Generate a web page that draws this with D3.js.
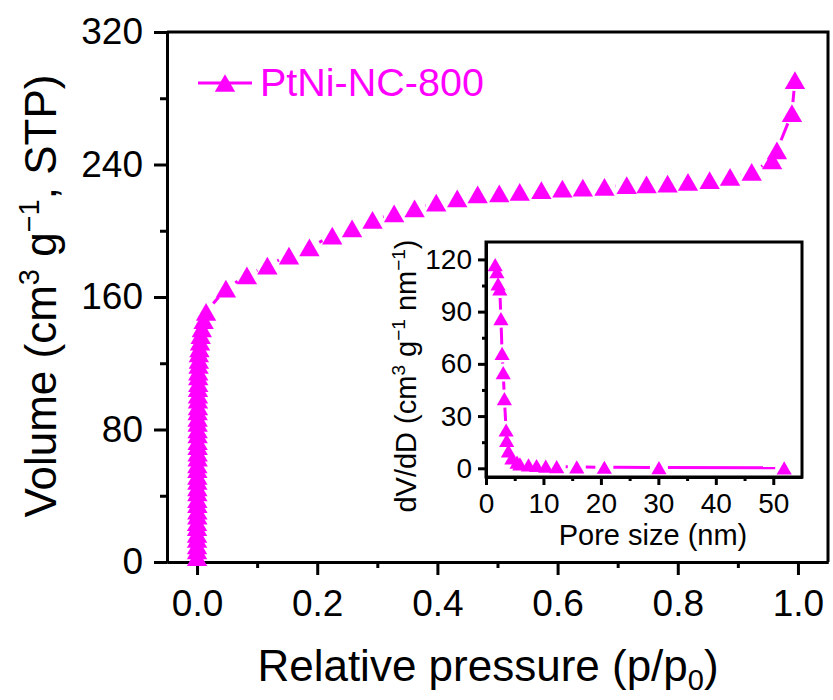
<!DOCTYPE html>
<html>
<head>
<meta charset="utf-8">
<script src="https://cdn.jsdelivr.net/npm/d3@7/dist/d3.min.js"></script>
<style>
  body { margin: 0; background: #fff; }
  svg text { font-family: Arial, "Liberation Sans", sans-serif; fill: #000; }
</style>
</head>
<body>
<svg id="chart" width="833" height="700"></svg>
<script>
// ---- data ----
// isotherm, relative pressure vs adsorbed volume
const pressure = [0.000, 0.000, 0.000, 0.000, 0.000, 0.000, 0.000, 0.0005, 0.0005, 0.0005,
  0.0005, 0.0005, 0.0005, 0.0005, 0.0005, 0.0005, 0.0005, 0.001, 0.001, 0.001,
  0.001, 0.001, 0.001, 0.001, 0.001, 0.001, 0.0015, 0.0015, 0.0015, 0.0015,
  0.002, 0.002, 0.002, 0.0025, 0.003, 0.003, 0.004, 0.005, 0.006, 0.008,
  0.011, 0.015, 0.048, 0.083, 0.117, 0.153, 0.187, 0.225, 0.258, 0.292,
  0.328, 0.362, 0.398, 0.433, 0.467, 0.503, 0.537, 0.573, 0.608, 0.642,
  0.678, 0.715, 0.748, 0.783, 0.817, 0.853, 0.887, 0.923, 0.957, 0.965,
  0.990, 0.995];
const volume = [3, 7, 10, 14, 17, 21, 24, 28, 31, 35,
  38, 42, 45, 49, 52, 56, 59, 63, 66, 70,
  73, 77, 80, 84, 87, 91, 94, 98, 101, 105,
  108, 112, 115, 119, 122, 126, 129, 133, 137, 141,
  146, 151, 165, 173, 179, 185, 190, 197, 201.5, 206.5,
  210.5, 213.5, 217, 219.5, 222, 222.5, 223.5, 224.5, 225.5, 226,
  226.5, 227.5, 228, 228.5, 229.5, 230.5, 232.5, 235.5, 242.5, 248.5,
  271, 291];
// inset: pore size distribution
const poreSize = [1.6, 1.9, 2.1, 2.4, 2.6, 2.8, 3.0, 3.2, 3.5, 3.6, 3.9, 4.5, 5.4, 5.9,
  7.4, 8.8, 10.4, 12.3, 15.8, 20.6, 30.1, 51.9];
const dVdD = [117, 113, 106, 103, 86, 66, 55, 40, 22, 16, 10, 6, 3.5, 2.5,
  2, 1.6, 1.2, 1, 0.8, 0.6, 0.4, 0.3];

const xTicks = [0, 0.2, 0.4, 0.6, 0.8, 1.0];
const xMinor = [0.1, 0.3, 0.5, 0.7, 0.9];
const yTicks = [0, 80, 160, 240, 320];
const yMinor = [40, 120, 200, 280];
const ixTicks = [0, 10, 20, 30, 40, 50];
const ixMinor = [5, 15, 25, 35, 45];
const iyTicks = [0, 30, 60, 90, 120];
const iyMinor = [15, 45, 75, 105];
const seriesName = 'PtNi-NC-800';

const magenta = '#ff00ff';
const svg = d3.select('#chart');

// triangle centred on its bounding box
const tri = {
  draw(ctx, size) {
    const w = Math.sqrt(size * 4 / Math.sqrt(3));
    const h = w * 0.87;
    ctx.moveTo(0, -h / 2);
    ctx.lineTo(w / 2, h / 2);
    ctx.lineTo(-w / 2, h / 2);
    ctx.closePath();
  }
};

// draws a line between points, leaving a small gap next to each marker
function gappedLine(g, pts, gap) {
  for (let i = 1; i < pts.length; i++) {
    const [x1, y1] = pts[i - 1];
    const [x2, y2] = pts[i];
    const len = Math.hypot(x2 - x1, y2 - y1);
    if (len <= gap * 2) continue;
    const ux = (x2 - x1) / len, uy = (y2 - y1) / len;
    g.append('line')
      .attr('x1', x1 + ux * gap).attr('y1', y1 + uy * gap)
      .attr('x2', x2 - ux * gap).attr('y2', y2 - uy * gap)
      .attr('stroke', magenta).attr('stroke-width', 3);
  }
}

function styleAxis(g, fontSize) {
  g.select('.domain').attr('stroke', '#000').attr('stroke-width', 3);
  g.selectAll('.tick line').attr('stroke', '#000').attr('stroke-width', 3);
  g.selectAll('.tick text').attr('font-size', fontSize).attr('fill', '#000');
}

// ################ MAIN PLOT
const x = d3.scaleLinear().domain([-0.05, 1.05]).range([167, 828]);
const y = d3.scaleLinear().domain([0, 320]).range([562, 32]);

// minor ticks first
svg.append('g').attr('transform', 'translate(0,562)')
  .call(d3.axisBottom(x).tickValues(xMinor).tickSize(6).tickSizeOuter(0).tickFormat(''))
  .call(g => styleAxis(g, 37));
svg.append('g').attr('transform', 'translate(167,0)')
  .call(d3.axisLeft(y).tickValues(yMinor).tickSize(7).tickSizeOuter(0).tickFormat(''))
  .call(g => styleAxis(g, 37));

svg.append('g').attr('transform', 'translate(0,562)')
  .call(d3.axisBottom(x).tickValues(xTicks).tickSize(13).tickSizeOuter(0)
    .tickPadding(15).tickFormat(d3.format('.1f')))
  .call(g => styleAxis(g, 37));
svg.append('g').attr('transform', 'translate(167,0)')
  .call(d3.axisLeft(y).tickValues(yTicks).tickSize(13).tickSizeOuter(0).tickPadding(11))
  .call(g => styleAxis(g, 37));

// top and right border
svg.append('path')
  .attr('d', `M${x.range()[0]},${y.range()[1]}H${x.range()[1]}V${y.range()[0]}`)
  .attr('fill', 'none').attr('stroke', '#000').attr('stroke-width', 3);

// axis titles
const xTitle = svg.append('text').attr('x', 488).attr('y', 681)
  .attr('text-anchor', 'middle').attr('font-size', 44);
xTitle.append('tspan').text('Relative pressure (p/p');
xTitle.append('tspan').attr('font-size', 29).attr('dy', 9).text('0');
xTitle.append('tspan').attr('dy', -9).text(')');

const yTitle = svg.append('text')
  .attr('transform', 'translate(56,296) rotate(-90)')
  .attr('text-anchor', 'middle').attr('font-size', 44);
yTitle.append('tspan').text('Volume (cm');
yTitle.append('tspan').attr('font-size', 29).attr('dy', -17).text('3');
yTitle.append('tspan').attr('dy', 17).text(' g');
yTitle.append('tspan').attr('font-size', 29).attr('dy', -17).text('−1');
yTitle.append('tspan').attr('dy', 17).text(', STP)');

// series
const mainPts = pressure.map((p, i) => [x(p), y(volume[i])]);
const mainG = svg.append('g');
gappedLine(mainG, mainPts, 11);
mainG.selectAll('path.marker')
  .data(mainPts)
  .join('path')
  .attr('class', 'marker')
  .attr('transform', d => `translate(${d[0]},${d[1]})`)
  .attr('d', d3.symbol().type(tri).size(180))
  .attr('fill', magenta);

// legend
const leg = svg.append('g').attr('transform', 'translate(198,83)');
leg.append('line').attr('x1', 0).attr('x2', 54).attr('stroke', magenta).attr('stroke-width', 3);
leg.append('path').attr('transform', 'translate(27,0)')
  .attr('d', d3.symbol().type(tri).size(180)).attr('fill', magenta);
leg.append('text').attr('x', 62).attr('y', 13).attr('font-size', 39.5)
  .style('fill', magenta).text(seriesName);

// ################ INSET
const ix = d3.scaleLinear().domain([0, 55]).range([486, 802]);
const iy = d3.scaleLinear().domain([-5, 130]).range([477, 242]);

svg.append('rect')
  .attr('x', ix.range()[0]).attr('y', iy.range()[1])
  .attr('width', ix.range()[1] - ix.range()[0])
  .attr('height', iy.range()[0] - iy.range()[1])
  .attr('fill', '#fff').attr('stroke', '#000').attr('stroke-width', 3);

svg.append('g').attr('transform', 'translate(0,477)')
  .call(d3.axisBottom(ix).tickValues(ixMinor).tickSize(4).tickSizeOuter(0).tickFormat(''))
  .call(g => styleAxis(g, 28));
svg.append('g').attr('transform', 'translate(486,0)')
  .call(d3.axisLeft(iy).tickValues(iyMinor).tickSize(4).tickSizeOuter(0).tickFormat(''))
  .call(g => styleAxis(g, 28));
svg.append('g').attr('transform', 'translate(0,477)')
  .call(d3.axisBottom(ix).tickValues(ixTicks).tickSize(8).tickSizeOuter(0).tickPadding(8))
  .call(g => styleAxis(g, 28));
svg.append('g').attr('transform', 'translate(486,0)')
  .call(d3.axisLeft(iy).tickValues(iyTicks).tickSize(8).tickSizeOuter(0).tickPadding(6))
  .call(g => styleAxis(g, 28));

svg.append('text').attr('x', 653).attr('y', 545)
  .attr('text-anchor', 'middle').attr('font-size', 29).text('Pore size (nm)');

const iyTitle = svg.append('text')
  .attr('transform', 'translate(416,376) rotate(-90)')
  .attr('text-anchor', 'middle').attr('font-size', 29);
iyTitle.append('tspan').text('dV/dD (cm');
iyTitle.append('tspan').attr('font-size', 19).attr('dy', -11).text('3');
iyTitle.append('tspan').attr('dy', 11).text(' g');
iyTitle.append('tspan').attr('font-size', 19).attr('dy', -11).text('−1');
iyTitle.append('tspan').attr('dy', 11).text(' nm');
iyTitle.append('tspan').attr('font-size', 19).attr('dy', -11).text('−1');
iyTitle.append('tspan').attr('dy', 11).text(')');

const insetPts = poreSize.map((d, i) => [ix(d), iy(dVdD[i])]);
const insetG = svg.append('g');
gappedLine(insetG, insetPts, 9);
insetG.selectAll('path.marker')
  .data(insetPts)
  .join('path')
  .attr('class', 'marker')
  .attr('transform', d => `translate(${d[0]},${d[1]})`)
  .attr('d', d3.symbol().type(tri).size(100))
  .attr('fill', magenta);
</script>
</body>
</html>
